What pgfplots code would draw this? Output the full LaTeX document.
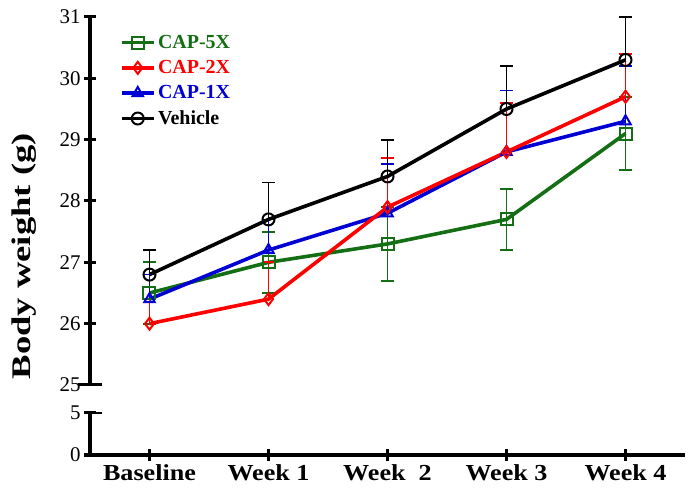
\documentclass[border=0pt]{standalone}
\usepackage{pgfplots}
\pgfplotsset{compat=1.18}
\usepackage{pgfplotstable}
\usepackage{fontspec}
\setmainfont{Liberation Serif}

\definecolor{cgreen}{RGB}{20,110,20}
\definecolor{cred}{RGB}{255,0,0}
\definecolor{cblue}{RGB}{0,0,210}

% body weight, mean and error (plus / minus)
\pgfplotstableread{
x y ep em
0 26.5 0.5 0.5
1 27.0 0.5 0.5
2 27.3 0.6 0.6
3 27.7 0.5 0.5
4 29.1 0.6 0.6
}\capfive
\pgfplotstableread{
x y ep
0 26.0 0.4
1 26.4 0.6
2 27.9 0.8
3 28.8 0.8
4 29.7 0.7
}\captwo
\pgfplotstableread{
x y ep
0 26.4 0.4
1 27.2 0.5
2 27.8 0.8
3 28.8 1.0
4 29.3 0.9
}\capone
\pgfplotstableread{
x y ep
0 26.8 0.4
1 27.7 0.6
2 28.4 0.6
3 29.5 0.7
4 30.3 0.7
}\vehicle

\pgfplotsset{
  bw/.style={
    scale only axis, width=595bp,
    xmin=-0.5, xmax=4.5,
    tick style={line width=3bp, black},
    major tick length=12bp,
    tick align=outside,
    yticklabel style={font=\fontsize{21}{21}\selectfont},
    /pgf/number format/assume math mode=true,
  },
  nolinearrows/.style={
    axis line style={line width=3.2bp, -},
    every outer x axis line/.append style={-},
    every outer y axis line/.append style={-},
  },
  ser/.style={
    color=#1, line width=3.6bp,
    mark size=6bp,
    mark options={solid, line width=2bp, fill=none},
    error bars/error bar style={line width=1.7bp, color=#1},
    error bars/error mark options={rotate=90, line width=1.7bp, mark size=6.5bp, color=#1},
  },
}

\begin{document}
\begin{tikzpicture}
\useasboundingbox (-90bp,-41bp) rectangle (602bp,455bp);

% lower part of the broken axis
\begin{axis}[bw,
  at={(0,0)}, anchor=south west,
  height=42bp,
  ymin=0, ymax=5, ytick={0,5},
  axis x line=bottom, axis y line=left,
  nolinearrows,
  xtick={0,1,2,3,4},
  xticklabels={Baseline, Week 1, Week\ \ 2, Week 3, Week 4},
  xticklabel style={font=\bfseries\fontsize{23}{23}\selectfont, xscale=1.14},
]
\draw[line width=3bp] ([xshift=-12bp]rel axis cs:0,1) -- ([xshift=12bp]rel axis cs:0,1);
\end{axis}

% upper part
\begin{axis}[bw,
  at={(0,70bp)}, anchor=south west,
  height=368bp,
  ymin=25, ymax=31, ytick={25,26,...,31},
  axis x line=none, axis y line=left,
  nolinearrows,
  xtick=\empty,
  clip=false,
  ylabel={\bfseries Body weight (g)},
  ylabel style={at={(rel axis cs:-0.11,0.35)}, anchor=center,
    font=\fontsize{27}{27}\selectfont, xscale=1.36},
]
\addplot[ser=cgreen, mark=square,
  error bars/.cd, y dir=both, y explicit]
  table[x=x, y=y, y error plus=ep, y error minus=em] {\capfive};
\addplot[ser=cblue, mark=triangle,
  error bars/.cd, y dir=plus, y explicit]
  table[x=x, y=y, y error plus=ep] {\capone};
\addplot[ser=cred, mark=diamond,
  error bars/.cd, y dir=plus, y explicit]
  table[x=x, y=y, y error plus=ep] {\captwo};
\addplot[ser=black, mark=o,
  error bars/.cd, y dir=plus, y explicit]
  table[x=x, y=y, y error plus=ep] {\vehicle};
\draw[line width=3bp] ([xshift=-12bp]rel axis cs:0,0) -- ([xshift=12bp]rel axis cs:0,0);
\end{axis}

% legend in the reference order
\begin{axis}[bw,
  at={(0,70bp)}, anchor=south west,
  height=368bp, ymin=25, ymax=31,
  hide axis,
  legend style={draw=none, fill=none, at={(rel axis cs:0.045,0.963)}, anchor=north west,
    font=\bfseries\fontsize{20}{20}\selectfont, row sep=5.5bp,
    nodes={inner sep=2.5bp}},
  legend cell align=left,
  legend image code/.code={
    \draw[#1, mark repeat=2, mark phase=2] plot coordinates {(0bp,0bp) (16bp,0bp) (32bp,0bp)};
  },
]
\addlegendimage{ser=cgreen, mark=square}
\addlegendentry{\textcolor{cgreen}{CAP-5X}}
\addlegendimage{ser=cred, mark=diamond}
\addlegendentry{\textcolor{cred}{CAP-2X}}
\addlegendimage{ser=cblue, mark=triangle}
\addlegendentry{\textcolor{cblue}{CAP-1X}}
\addlegendimage{ser=black, mark=o}
\addlegendentry{Vehicle}
\end{axis}
\end{tikzpicture}
\end{document}
